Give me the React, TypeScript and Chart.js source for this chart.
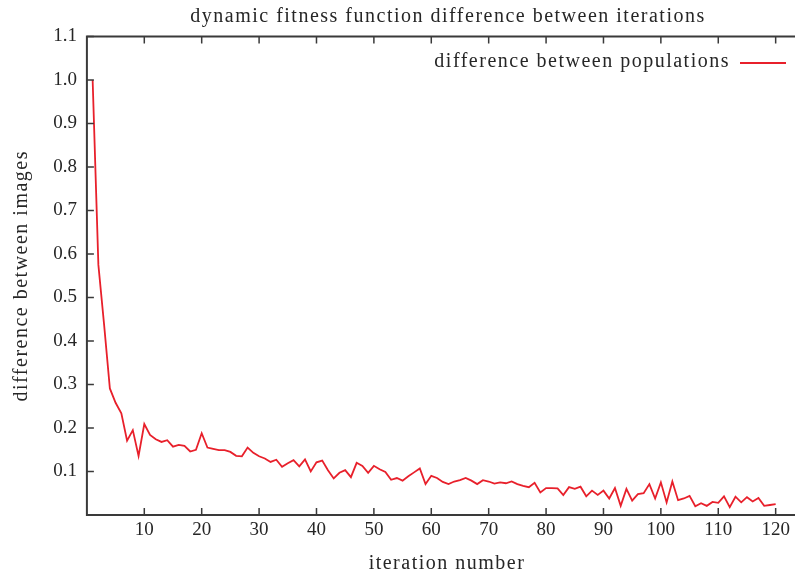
import React, { useEffect, useRef } from 'react';
import { Chart, registerables } from 'chart.js';

Chart.register(...registerables);

const chartTitle = 'dynamic fitness function difference between iterations';
const xAxisTitle = 'iteration number';
const yAxisTitle = 'difference between images';
const seriesLabel = 'difference between populations';

const xTickValues = [10, 20, 30, 40, 50, 60, 70, 80, 90, 100, 110, 120];
const yTickValues = [0.1, 0.2, 0.3, 0.4, 0.5, 0.6, 0.7, 0.8, 0.9, 1.0, 1.1];

const differences = [
  1.0, 0.575, 0.437, 0.291, 0.258, 0.234, 0.171, 0.195, 0.136, 0.209,
  0.184, 0.174, 0.168, 0.172, 0.157, 0.161, 0.159, 0.146, 0.150, 0.188,
  0.155, 0.152, 0.149, 0.149, 0.145, 0.136, 0.135, 0.155, 0.143, 0.135,
  0.130, 0.122, 0.127, 0.111, 0.119, 0.126, 0.112, 0.128, 0.100, 0.121,
  0.125, 0.103, 0.084, 0.097, 0.103, 0.087, 0.120, 0.113, 0.097, 0.113,
  0.105, 0.099, 0.081, 0.085, 0.079, 0.089, 0.098, 0.107, 0.071, 0.090,
  0.085, 0.076, 0.071, 0.077, 0.080, 0.085, 0.079, 0.071, 0.080, 0.077,
  0.072, 0.075, 0.073, 0.077, 0.071, 0.067, 0.064, 0.074, 0.052, 0.062,
  0.062, 0.061, 0.046, 0.064, 0.060, 0.065, 0.043, 0.056, 0.046, 0.056,
  0.038, 0.062, 0.021, 0.060, 0.033, 0.048, 0.050, 0.071, 0.038, 0.075,
  0.029, 0.077, 0.034, 0.038, 0.044, 0.020, 0.027, 0.021, 0.030, 0.028,
  0.043, 0.018, 0.042, 0.029, 0.041, 0.031, 0.039, 0.021, 0.023, 0.025,
];
const iterations = differences.map((_, i) => i + 1);

const FONT = '"Liberation Serif", "DejaVu Serif", serif';
const TEXT = '#262626';
const AXIS = '#3a3a3a';
const RED = '#e8202b';

const framePlugin = {
  id: 'gnuplotFrame',
  afterDraw(chart: any) {
    const { ctx, chartArea } = chart;
    const { left, right, top, bottom } = chartArea;
    const xs = chart.scales.x;
    const ys = chart.scales.y;
    ctx.save();
    ctx.strokeStyle = AXIS;
    ctx.lineWidth = 1.5;
    const tl = 7;
    ctx.beginPath();
    ys.ticks.forEach((t: any) => {
      const y = ys.getPixelForValue(t.value);
      ctx.moveTo(left, y);
      ctx.lineTo(left + tl, y);
      ctx.moveTo(right, y);
      ctx.lineTo(right - tl, y);
    });
    xs.ticks.forEach((t: any) => {
      const x = xs.getPixelForValue(t.value);
      ctx.moveTo(x, bottom);
      ctx.lineTo(x, bottom - tl);
      ctx.moveTo(x, top);
      ctx.lineTo(x, top + tl);
    });
    ctx.stroke();
    ctx.lineWidth = 2;
    ctx.strokeRect(left, top, right - left, bottom - top);

    ctx.fillStyle = TEXT;
    ctx.font = `20px ${FONT}`;
    (ctx as any).letterSpacing = '1.5px';
    ctx.textAlign = 'center';
    ctx.textBaseline = 'middle';
    ctx.fillText(chartTitle, 448, 17);
    ctx.fillText(xAxisTitle, 447, 564);
    ctx.save();
    ctx.translate(22, (top + bottom) / 2);
    ctx.rotate(-Math.PI / 2);
    ctx.fillText(yAxisTitle, 0, 0);
    ctx.restore();

    // key
    ctx.textAlign = 'right';
    ctx.fillText(chart.data.datasets[0].label, 730, 62);
    (ctx as any).letterSpacing = '0px';
    ctx.strokeStyle = RED;
    ctx.lineWidth = 1.8;
    ctx.beginPath();
    ctx.moveTo(740, 63);
    ctx.lineTo(786, 63);
    ctx.stroke();
    ctx.restore();
  },
};

export default function App() {
  const ref = useRef<HTMLCanvasElement>(null);
  useEffect(() => {
    if (!ref.current) return;
    const chart = new Chart(ref.current, {
      type: 'line',
      data: {
        datasets: [
          {
            label: seriesLabel,
            data: iterations.map((x, i) => ({ x, y: differences[i] })),
            borderColor: RED,
            borderWidth: 1.8,
            pointRadius: 0,
            tension: 0,
            fill: false,
          },
        ],
      },
      plugins: [framePlugin],
      options: {
        animation: false,
        responsive: false,
        maintainAspectRatio: false,
        layout: { padding: { left: 0, top: 36.5, right: 9.9, bottom: 0 } },
        plugins: {
          legend: { display: false },
          title: { display: false },
          tooltip: { enabled: false },
        },
        scales: {
          x: {
            type: 'linear',
            min: 0,
            max: 126,
            border: { display: false },
            grid: { display: false, drawTicks: false },
            afterBuildTicks: (s: any) => {
              s.ticks = xTickValues.map((value) => ({ value }));
            },
            ticks: {
              padding: 4,
              color: TEXT,
              font: { family: FONT, size: 19 },
              maxRotation: 0,
              autoSkip: false,
              callback: (v: any) => String(v),
            },
            afterFit: (s: any) => {
              s.height = 60;
            },
          },
          y: {
            type: 'linear',
            min: 0,
            max: 1.1,
            border: { display: false },
            grid: { display: false, drawTicks: false },
            afterBuildTicks: (s: any) => {
              s.ticks = yTickValues.map((value) => ({ value }));
            },
            ticks: {
              padding: 10,
              color: TEXT,
              autoSkip: false,
              font: { family: FONT, size: 19 },
              callback: (v: any) => Number(v).toFixed(1),
            },
            afterFit: (s: any) => {
              s.width = 86.9;
            },
          },
        },
      },
    });
    return () => chart.destroy();
  }, []);
  return (
    <div style={{ position: 'fixed', left: 0, top: 0, width: 795, height: 575, overflow: 'hidden', background: '#fff' }}>
      <canvas ref={ref} width={820} height={575} style={{ width: 820, height: 575, display: 'block' }} />
    </div>
  );
}
